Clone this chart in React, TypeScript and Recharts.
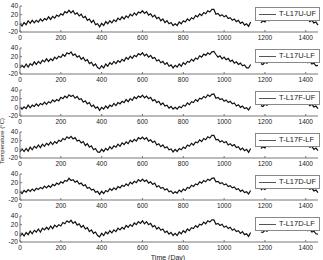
import { LineChart, Line, XAxis, YAxis, Legend } from 'recharts'

// daily temperature readings, sampled every 10 days from day 0 to 1460
const STEP = 10
const xTicks = [0, 200, 400, 600, 800, 1000, 1200, 1400]
const yTicks = [-20, 0, 20, 40]

const uUF = [
  -1, -6, 2, -3, 6, 0, 7, 1, 7, 3,
  10, 5, 11, 8, 15, 9, 16, 12, 19, 16,
  22, 19, 27, 24, 30, 24, 29, 21, 24, 17,
  21, 13, 16, 7, 10, 2, 7, -3, -1, -8,
  0, -5, 4, -1, 6, 1, 8, 4, 12, 8,
  15, 10, 17, 13, 21, 17, 24, 19, 26, 24,
  29, 23, 27, 19, 22, 15, 19, 11, 14, 6,
  10, 2, 6, -1, 2, -5, -1, -5, 3, -1,
  6, 3, 10, 6, 13, 10, 18, 15, 22, 18,
  25, 22, 29, 26, 32, 32,
  21, 23, 17, 20, 15, 18, 11, 13, 7, 10, 4, 7, 0, 3, -4, -1, -7, 3,
  null, null, null, null,
  1, 6, 3, 9, 6, 12, 9, 15,
  13, 20, 16, 23, 21, 28, 24, 28,
  22, 25, 17, 20, 13, 16, 9, 12, 4, 7, 1, 3, -4,
]

const uLF = [
  -6, 0, -5, 3, -4, 4, 0, 8, 2, 9,
  4, 12, 8, 15, 9, 15, 11, 19, 15, 21,
  18, 25, 21, 29, 26, 31, 23, 26, 19, 22,
  14, 18, 10, 13, 4, 7, -1, 3, -5, -8,
  -1, -6, 3, -2, 6, 2, 9, 4, 11, 7,
  14, 10, 18, 14, 21, 16, 23, 20, 27, 24,
  29, 22, 26, 19, 23, 16, 18, 10, 13, 6,
  9, 2, 6, -2, 1, -6, 0, -4, 3, -2,
  6, 2, 9, 7, 14, 10, 17, 14, 22, 19,
  26, 23, 29, 25, 31, 32,
  25, 19, 22, 15, 19, 13, 16, 9, 12, 5, 8, 2, 5, -1, 1, -6, -6, 2,
  null, null, null, null,
  4, 2, 7, 5, 11, 8, 14, 11,
  17, 15, 22, 19, 25, 22, 28, 24,
  26, 20, 23, 15, 18, 12, 14, 6, 9, 3, 5, -1, 0,
]

const fUF = [
  0, -4, 1, -3, 5, -1, 5, 2, 8, 3,
  9, 6, 12, 7, 13, 10, 17, 13, 18, 15,
  23, 20, 26, 22, 29, 25, 28, 21, 25, 18,
  20, 12, 15, 8, 11, 2, 5, -2, 1, -7,
  0, -4, 3, -2, 5, 2, 9, 4, 11, 8,
  14, 11, 18, 13, 20, 16, 24, 20, 26, 23,
  28, 22, 26, 20, 23, 15, 18, 11, 14, 6,
  10, 3, 5, -2, 2, -4, 0, -4, 2, -1,
  5, 3, 10, 6, 13, 11, 18, 14, 21, 19,
  25, 22, 29, 25, 30, 31,
  21, 23, 18, 20, 14, 17, 11, 14, 8, 10, 3, 6, 0, 3, -3, -1, -6, 2,
  null, null, null, null,
  4, 2, 7, 5, 10, 8, 13, 11,
  17, 15, 21, 18, 25, 22, 27, 24,
  22, 24, 18, 21, 13, 16, 9, 11, 4, 7, 1, 3, -3,
]

const fLF = [
  -6, 1, -5, 2, -4, 5, -1, 7, 3, 10,
  4, 12, 7, 14, 10, 17, 11, 18, 14, 21,
  18, 25, 22, 29, 25, 30, 24, 27, 19, 21,
  15, 18, 9, 13, 5, 8, -1, 2, -6, -7,
  0, -5, 2, -2, 6, 1, 8, 5, 12, 7,
  15, 11, 17, 13, 21, 17, 23, 19, 27, 24,
  28, 23, 27, 19, 22, 16, 19, 10, 13, 6,
  10, 3, 6, -1, 1, -6, 0, -5, 2, -1,
  5, 2, 10, 7, 14, 10, 17, 15, 22, 18,
  25, 22, 29, 26, 32, 32,
  22, 23, 17, 20, 15, 18, 10, 13, 8, 11, 4, 6, -1, 3, -3, 0, -7, 2,
  null, null, null, null,
  2, 6, 3, 9, 6, 12, 9, 15,
  13, 19, 17, 24, 21, 27, 24, 28,
  21, 24, 18, 21, 13, 16, 9, 12, 5, 7, 0, 3, -3,
]

const dUF = [
  -1, -5, 2, -2, 4, 0, 5, 1, 7, 4,
  9, 6, 12, 8, 13, 9, 16, 13, 19, 16,
  22, 19, 25, 23, 30, 25, 27, 21, 24, 17,
  19, 13, 15, 7, 9, 3, 5, -2, 0, -7,
  0, -5, 2, -1, 6, 2, 8, 4, 11, 8,
  14, 11, 17, 13, 21, 17, 23, 20, 27, 23,
  28, 23, 26, 19, 22, 16, 19, 10, 13, 7,
  9, 3, 6, -1, 1, -5, -1, -4, 3, -1,
  5, 2, 9, 7, 14, 11, 17, 15, 22, 19,
  25, 22, 28, 25, 30, 31,
  22, 23, 18, 20, 15, 17, 11, 13, 8, 10, 4, 6, 0, 3, -3, -1, -6, 2,
  null, null, null, null,
  3, 7, 4, 9, 7, 12, 10, 15,
  13, 19, 17, 23, 21, 27, 24, 28,
  22, 24, 18, 20, 14, 16, 9, 11, 5, 7, 1, 3, -3,
]

const dLF = [
  -7, 0, -6, 2, -3, 5, -1, 7, 3, 10,
  3, 12, 8, 14, 9, 17, 11, 19, 15, 20,
  17, 25, 22, 29, 25, 30, 23, 27, 19, 22,
  14, 18, 10, 13, 4, 8, 0, 3, -5, -8,
  0, -5, 3, -1, 6, 1, 8, 4, 12, 8,
  14, 10, 18, 14, 20, 16, 24, 20, 27, 23,
  29, 22, 27, 20, 23, 15, 18, 10, 14, 7,
  10, 2, 5, -2, 2, -5, 0, -5, 3, -1,
  6, 2, 10, 6, 13, 11, 18, 14, 21, 19,
  26, 22, 29, 26, 31, 31,
  21, 23, 18, 21, 14, 17, 11, 14, 7, 10, 4, 6, 0, 4, -3, -1, -7, 2,
  null, null, null, null,
  3, 2, 7, 5, 10, 8, 14, 11,
  17, 15, 22, 18, 25, 23, 28, 24,
  26, 19, 22, 16, 19, 11, 13, 6, 9, 3, 5, -1, -2,
]

const panels = [
  { name: 'T-L17U-UF', values: uUF },
  { name: 'T-L17U-LF', values: uLF },
  { name: 'T-L17F-UF', values: fUF },
  { name: 'T-L17F-LF', values: fLF },
  { name: 'T-L17D-UF', values: dUF },
  { name: 'T-L17D-LF', values: dLF },
]

const FONT = '"Liberation Sans", Arial, sans-serif'
const AXIS = '#777'

function LegendBox({ name }: { name: string }) {
  return (
    <div style={{
      display: 'flex', alignItems: 'center', boxSizing: 'border-box',
      width: 65, height: 14, border: '1px solid #888', background: '#fff',
    }}>
      <div style={{ width: 17, borderTop: '1px solid #555', marginLeft: 3 }} />
      <span style={{ marginLeft: 3, fontSize: 7.5, color: '#222', lineHeight: '12px' }}>{name}</span>
    </div>
  )
}

function Panel({ name, values, top }: { name: string; values: (number | null)[]; top: number }) {
  const data = values.map((t, i) => ({ day: i * STEP, t }))
  return (
    <div style={{ position: 'absolute', left: 0, top }}>
      <LineChart width={323} height={42} data={data} margin={{ top: 6, right: 5, bottom: 0, left: 0 }}>
        <XAxis dataKey="day" type="number" domain={[0, 1460]} ticks={xTicks} interval={0}
          height={10} tickSize={-2} tickMargin={5} stroke={AXIS}
          tick={{ fontSize: 6.5, fill: '#222' }} />
        <XAxis xAxisId="top" orientation="top" dataKey="day" type="number" domain={[0, 1460]}
          ticks={xTicks} interval={0} height={0} tickSize={-2} tick={false} stroke={AXIS} />
        <YAxis domain={[-20, 40]} ticks={yTicks} interval={0} width={20} tickSize={-2} tickMargin={4}
          stroke={AXIS} tick={{ fontSize: 6.5, fill: '#222' }} />
        <YAxis yAxisId="r" orientation="right" domain={[-20, 40]} ticks={yTicks} interval={0}
          width={0} tickSize={-2} tick={false} stroke={AXIS} />
        <Legend layout="vertical" align="center" verticalAlign="middle"
          wrapperStyle={{ left: 255, top: 7, width: 65, height: 14 }}
          content={() => <LegendBox name={name} />} />
        <Line dataKey="t" name={name} stroke="#111" strokeWidth={1.2} dot={false}
          isAnimationActive={false} />
      </LineChart>
    </div>
  )
}

export default function App() {
  return (
    <div style={{ position: 'absolute', left: 0, top: 0, width: 323, height: 260, background: '#fff', fontFamily: FONT }}>
      {panels.map((p, k) => (
        <Panel key={p.name} name={p.name} values={p.values} top={k * 42} />
      ))}
      <div style={{
        position: 'absolute', left: 2, top: 141, fontSize: 6, color: '#222', whiteSpace: 'nowrap',
        transform: 'translate(-50%, -50%) rotate(-90deg)',
      }}>Temperature (°C)</div>
      <div style={{
        position: 'absolute', left: 168, top: 257, fontSize: 7, color: '#222', whiteSpace: 'nowrap',
        transform: 'translate(-50%, -50%)',
      }}>Time (Day)</div>
    </div>
  )
}
